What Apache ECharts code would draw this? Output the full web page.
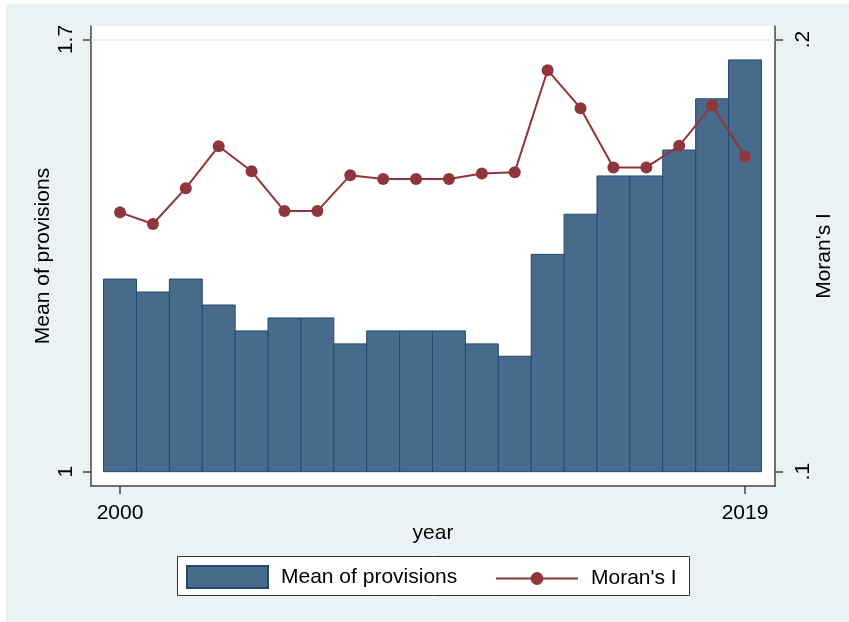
<!DOCTYPE html>
<html>
<head>
<meta charset="utf-8">
<script src="https://cdn.jsdelivr.net/npm/echarts@6/dist/echarts.min.js"></script>
<style>
  html, body { margin: 0; padding: 0; background: #fff; }
  #main { position: absolute; left: 6px; top: 4px; width: 843px; height: 618px; }
</style>
</head>
<body>
<div id="main"></div>
<script>
  // data
  var years = [2000, 2001, 2002, 2003, 2004, 2005, 2006, 2007, 2008, 2009,
               2010, 2011, 2012, 2013, 2014, 2015, 2016, 2017, 2018, 2019];
  var provisions = [1.312, 1.291, 1.312, 1.270, 1.228, 1.249, 1.249, 1.207, 1.228, 1.228,
                    1.228, 1.207, 1.187, 1.352, 1.417, 1.479, 1.479, 1.521, 1.604, 1.667];
  var moran = [0.1600, 0.1573, 0.1656, 0.1753, 0.1695, 0.1603, 0.1603, 0.1686, 0.1677, 0.1677,
               0.1677, 0.1690, 0.1693, 0.1929, 0.1841, 0.1704, 0.1704, 0.1754, 0.1848, 0.1729];
  var xTicks = [2000, 2019];
  var leftTicks = [1, 1.7];
  var rightTicks = [0.1, 0.2];
  var barBase = 1;

  var font = 'Liberation Sans, Arial, sans-serif';
  var axisColor = '#444';
  var barFill = '#486b8c';
  var barEdge = '#1f4a73';
  var lineColor = '#90353b';

  var chart = echarts.init(document.getElementById('main'));

  // bars start at 1 (the axis base), not at 0
  function renderBar(params, api) {
    var x = api.value(0), v = api.value(1);
    var top = api.coord([x, v]);
    var base = api.coord([x, barBase]);
    var w = api.size([1, 0])[0];
    return {
      type: 'rect',
      shape: { x: top[0] - w / 2, y: top[1], width: w, height: base[1] - top[1] },
      style: { fill: barFill, stroke: barEdge, lineWidth: 1 }
    };
  }

  var barData = years.map(function (y, i) { return [y, provisions[i]]; });
  var lineData = years.map(function (y, i) { return [y, moran[i]]; });

  chart.setOption({
    backgroundColor: '#eaf2f3',
    animation: false,
    textStyle: { fontFamily: font },
    grid: {
      left: 85, right: 74, top: 22, bottom: 136,
      show: true, backgroundColor: '#fff', borderWidth: 0
    },
    graphic: [{
      type: 'rect',
      left: 171, top: 552,
      shape: { width: 512, height: 39 },
      style: { fill: '#fff', stroke: '#333', lineWidth: 1 },
      z: -1
    }],
    legend: [
      {
        data: [{ name: 'Mean of provisions', icon: 'rect' }],
        left: 180, top: 561, padding: 0,
        itemWidth: 81, itemHeight: 22,
        textStyle: { fontSize: 21, color: '#000', fontFamily: font, padding: [0, 0, 0, 8] }
      },
      {
        data: ['Moran\'s I'],
        left: 489, top: 564, padding: 0,
        itemWidth: 82, itemHeight: 16,
        textStyle: { fontSize: 21, color: '#000', fontFamily: font, padding: [0, 0, 0, 8] }
      }
    ],
    xAxis: {
      type: 'value',
      min: 1999.118, max: 2019.912,
      name: 'year',
      nameLocation: 'middle',
      nameGap: 37,
      nameMoveOverlap: false,
      nameTextStyle: { fontSize: 21, color: '#000' },
      axisLine: { show: true, lineStyle: { color: axisColor, width: 1.5 } },
      axisTick: { show: true, length: 8, customValues: xTicks, lineStyle: { color: axisColor, width: 1.5 } },
      axisLabel: {
        customValues: xTicks, fontSize: 21, color: '#000', margin: 17,
        formatter: function (v) { return String(v); }
      },
      splitLine: { show: false }
    },
    yAxis: [
      {
        type: 'value',
        min: 0.9768, max: 1.7219,
        position: 'left',
        name: 'Mean of provisions',
        nameLocation: 'middle',
        nameGap: 37,
        nameMoveOverlap: false,
        nameTextStyle: { fontSize: 21, color: '#000' },
        axisLine: { show: true, lineStyle: { color: axisColor, width: 1.5 } },
        axisTick: { show: true, length: 8, customValues: leftTicks, lineStyle: { color: axisColor, width: 1.5 } },
        axisLabel: {
          customValues: leftTicks, rotate: 90, fontSize: 21, color: '#000', margin: 14,
          formatter: function (v) { return String(v); }
        },
        splitLine: { show: false }
      },
      {
        type: 'value',
        min: 0.09669, max: 0.20312,
        position: 'right',
        name: 'Moran\'s I',
        nameLocation: 'middle',
        nameGap: 39,
        nameMoveOverlap: false,
        nameTextStyle: { fontSize: 21, color: '#000' },
        axisLine: { show: true, lineStyle: { color: axisColor, width: 1.5 } },
        axisTick: { show: true, length: 8, customValues: rightTicks, lineStyle: { color: axisColor, width: 1.5 } },
        axisLabel: {
          customValues: rightTicks, rotate: 90, fontSize: 21, color: '#000', margin: 18,
          formatter: function (v) { return String(v).replace(/^0/, ''); }
        },
        splitLine: { show: false }
      }
    ],
    series: [
      {
        name: 'Mean of provisions',
        type: 'custom',
        renderItem: renderBar,
        data: barData,
        xAxisIndex: 0, yAxisIndex: 0,
        itemStyle: { color: barFill, borderColor: barEdge, borderWidth: 1 },
        encode: { x: 0, y: 1 },
        z: 2,
        markLine: {
          silent: true, symbol: 'none', label: { show: false },
          lineStyle: { color: '#e2ecee', width: 1.5, type: 'solid' },
          data: [{ yAxis: leftTicks[1] }]
        }
      },
      {
        name: 'Moran\'s I',
        type: 'line',
        data: lineData,
        xAxisIndex: 0, yAxisIndex: 1,
        symbol: 'circle', symbolSize: 12,
        lineStyle: { color: lineColor, width: 2 },
        itemStyle: { color: lineColor },
        z: 3
      }
    ]
  });
</script>
</body>
</html>
